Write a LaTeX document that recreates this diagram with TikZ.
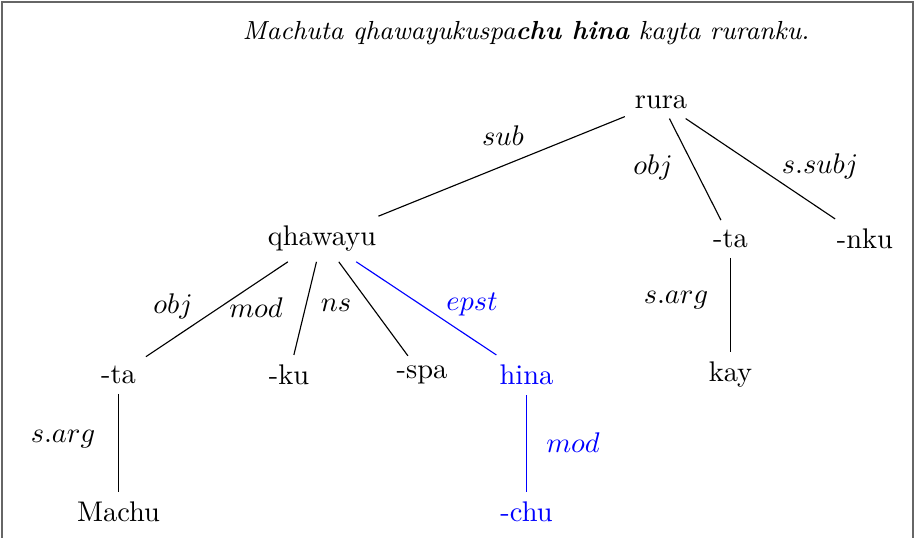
\documentclass[tikz,border=0pt]{standalone}
\begin{document}
\begin{tikzpicture}[x=0.352pt,y=-0.352pt,
  wd/.style={inner sep=.3333em},
  lbl/.style={},
  bl/.style={blue}]
\useasboundingbox (0,0) rectangle (915,537);
\draw[black!60,line width=0.45pt] (2,2) rectangle (913,560);
\node (title) at (526,33) {\fontsize{9.2pt}{11pt}\selectfont\textit{Machuta qhawayukuspa\textbf{chu hina} kayta ruranku.}};
% nodes
\node[wd] (rura) at (661,102) {rura};
\node[wd] (qh) at (322,239) {qhawayu};
\node[wd] (ta2) at (730.5,239) {-ta};
\node[wd] (nku) at (865,239) {-nku};
\node[wd] (ta1) at (118.5,375) {-ta};
\node[wd] (ku) at (289,375) {-ku};
\node[wd] (spa) at (422,375) {-spa};
\node[wd,bl] (hina) at (526.5,375) {hina};
\node[wd] (kay) at (730.5,375) {kay};
\node[wd] (machu) at (118.5,512) {Machu};
\node[wd,bl] (chu) at (526.5,512) {-chu};
% edges
\draw (rura) -- (qh);
\draw (rura) -- (ta2);
\draw (rura) -- (nku);
\draw (qh) -- (ta1);
\draw (qh) -- (ku);
\draw (qh) -- (spa);
\draw[blue] (qh) -- (hina);
\draw (ta1) -- (machu);
\draw (ta2) -- (kay);
\draw[blue] (hina) -- (chu);
% labels
\node[lbl] (l1) at (503,136) {$sub$};
\node[lbl] (l2) at (653,167) {$obj$};
\node[lbl] (l3) at (820,166) {$s.subj$};
\node[lbl] (l4) at (173,306) {$obj$};
\node[lbl] (l5) at (256,308) {$mod$};
\node[lbl] (l6) at (336,305) {$ns$};
\node[lbl,bl] (l7) at (472,305) {$epst$};
\node[lbl] (l8) at (63,439) {$s.arg$};
\node[lbl] (l9) at (676,300) {$s.arg$};
\node[lbl,bl] (l10) at (573,443) {$mod$};
\end{tikzpicture}
\end{document}
